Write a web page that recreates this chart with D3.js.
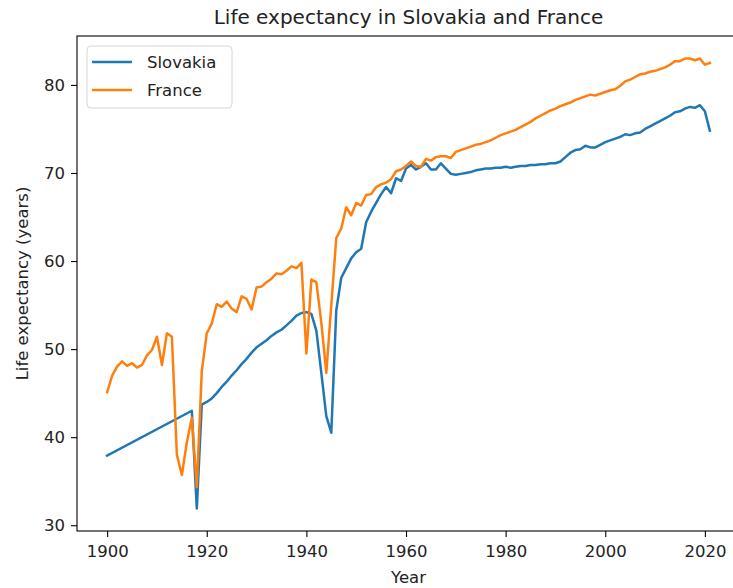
<!DOCTYPE html>
<html>
<head>
<meta charset="utf-8">
<script src="https://cdn.jsdelivr.net/npm/d3@7"></script>
<style>
  body { margin: 0; background: #fff; }
  svg { display: block; font-family: "DejaVu Sans", sans-serif; }
</style>
</head>
<body>
<div id="chart"></div>
<script>
// values
const slovakiaYears = [1900, 1917, 1918, 1919, 1920, 1921, 1922, 1923, 1924, 1925, 1926, 1927, 1928, 1929,
  1930, 1931, 1932, 1933, 1934, 1935, 1936, 1937, 1938, 1939, 1940, 1941, 1942, 1943, 1944, 1945, 1946,
  1947, 1948, 1949, 1950, 1951, 1952, 1953, 1954, 1955, 1956, 1957, 1958, 1959, 1960, 1961, 1962, 1963,
  1964, 1965, 1966, 1967, 1968, 1969, 1970, 1971, 1972, 1973, 1974, 1975, 1976, 1977, 1978, 1979, 1980,
  1981, 1982, 1983, 1984, 1985, 1986, 1987, 1988, 1989, 1990, 1991, 1992, 1993, 1994, 1995, 1996, 1997,
  1998, 1999, 2000, 2001, 2002, 2003, 2004, 2005, 2006, 2007, 2008, 2009, 2010, 2011, 2012, 2013, 2014,
  2015, 2016, 2017, 2018, 2019, 2020, 2021]
const slovakiaValues = [37.9, 43.0, 31.9, 43.7, 44.0, 44.4, 45.0, 45.7, 46.3, 47.0, 47.6, 48.3, 48.9, 49.6,
  50.2, 50.6, 51.0, 51.5, 51.9, 52.2, 52.7, 53.2, 53.8, 54.1, 54.2, 54.0, 52.1, 47.3, 42.4, 40.5, 54.4,
  58.1, 59.2, 60.3, 61.0, 61.4, 64.4, 65.6, 66.6, 67.6, 68.4, 67.7, 69.4, 69.1, 70.5, 70.9, 70.4, 70.7,
  71.1, 70.4, 70.4, 71.1, 70.5, 69.9, 69.8, 69.9, 70.0, 70.1, 70.3, 70.4, 70.5, 70.5, 70.6, 70.6, 70.7,
  70.6, 70.7, 70.8, 70.8, 70.9, 70.9, 71.0, 71.0, 71.1, 71.1, 71.3, 71.8, 72.3, 72.6, 72.7, 73.1, 72.9,
  72.9, 73.2, 73.5, 73.7, 73.9, 74.1, 74.4, 74.3, 74.5, 74.6, 75.0, 75.3, 75.6, 75.9, 76.2, 76.5, 76.9,
  77.0, 77.3, 77.5, 77.4, 77.7, 77.0, 74.8]

const franceYears = d3.range(1900, 2022)
const franceValues = [45.1, 47.0, 48.0, 48.6, 48.1, 48.4, 47.9, 48.2, 49.3, 49.9,
  51.4, 48.2, 51.8, 51.4, 38.0, 35.7, 39.4, 42.2, 34.3, 47.5,
  51.8, 52.9, 55.1, 54.8, 55.4, 54.6, 54.2, 56.0, 55.7, 54.5,
  57.0, 57.1, 57.6, 58.0, 58.6, 58.5, 58.9, 59.4, 59.2, 59.8,
  49.5, 57.9, 57.6, 53.0, 47.3, 55.0, 62.6, 63.7, 66.1, 65.2,
  66.6, 66.3, 67.5, 67.6, 68.4, 68.7, 68.9, 69.3, 70.2, 70.4,
  70.8, 71.3, 70.8, 70.7, 71.6, 71.4, 71.8, 71.9, 71.9, 71.7,
  72.4, 72.6, 72.8, 73.0, 73.2, 73.3, 73.5, 73.7, 74.0, 74.3,
  74.5, 74.7, 74.9, 75.2, 75.5, 75.8, 76.2, 76.5, 76.8, 77.1,
  77.3, 77.6, 77.8, 78.0, 78.3, 78.5, 78.7, 78.9, 78.8, 79.0,
  79.2, 79.4, 79.5, 79.9, 80.4, 80.6, 80.9, 81.2, 81.3, 81.5,
  81.6, 81.8, 82.0, 82.3, 82.7, 82.7, 83.0, 83.0, 82.8, 83.0,
  82.3, 82.5]

const xTicks = [1900, 1920, 1940, 1960, 1980, 2000, 2020]
const yTicks = [30, 40, 50, 60, 70, 80]

const series = [
  { name: 'Slovakia', color: '#1f77b4', years: slovakiaYears, values: slovakiaValues },
  { name: 'France', color: '#ff7f0e', years: franceYears, values: franceValues }
]

const W = 733, H = 588
const plotLeft = 77, plotRight = 740, plotTop = 36, plotBottom = 531
const fontSize = 16.5

// matplotlib style 5% margins
const pad = (lo, hi) => { let m = (hi - lo) * 0.05; return [lo - m, hi + m] }
const allYears = series.flatMap(s => s.years)
const allValues = series.flatMap(s => s.values)

const x = d3.scaleLinear().domain(pad(d3.min(allYears), d3.max(allYears))).range([plotLeft, plotRight])
const y = d3.scaleLinear().domain(pad(d3.min(allValues), d3.max(allValues))).range([plotBottom, plotTop])

const svg = d3.select('#chart').append('svg')
  .attr('width', W)
  .attr('height', H)

svg.append('rect').attr('width', W).attr('height', H).attr('fill', '#fff')

const line = d3.line().x(d => x(d[0])).y(d => y(d[1]))

series.forEach(s => {
  svg.append('path')
    .datum(s.years.map((yr, i) => [yr, s.values[i]]))
    .attr('d', line)
    .attr('fill', 'none')
    .attr('stroke', s.color)
    .attr('stroke-width', 2.5)
    .attr('stroke-linejoin', 'round')
    .attr('stroke-linecap', 'square')
})

let xAxis = svg.append('g')
  .attr('transform', `translate(0, ${plotBottom})`)
  .call(d3.axisBottom(x).tickValues(xTicks).tickFormat(d3.format('d')).tickSize(6).tickSizeOuter(0).tickPadding(8))
let yAxis = svg.append('g')
  .attr('transform', `translate(${plotLeft}, 0)`)
  .call(d3.axisLeft(y).tickValues(yTicks).tickSize(6).tickSizeOuter(0).tickPadding(6))

;[xAxis, yAxis].forEach(a => {
  a.select('.domain').remove()
  a.selectAll('line').attr('stroke', '#000').attr('stroke-width', 1.1)
  a.selectAll('text')
    .attr('fill', '#222')
    .style('font-size', fontSize + 'px')
    .style('font-family', '"DejaVu Sans", sans-serif')
})

// spines
svg.append('rect')
  .attr('x', plotLeft).attr('y', plotTop)
  .attr('width', plotRight - plotLeft).attr('height', plotBottom - plotTop)
  .attr('fill', 'none')
  .attr('stroke', '#000')
  .attr('stroke-width', 1.1)

svg.append('text')
  .attr('x', (plotLeft + plotRight) / 2)
  .attr('y', 24)
  .attr('text-anchor', 'middle')
  .attr('fill', '#222')
  .style('font-size', '20px')
  .text('Life expectancy in Slovakia and France')

svg.append('text')
  .attr('x', (plotLeft + plotRight) / 2)
  .attr('y', 583)
  .attr('text-anchor', 'middle')
  .attr('fill', '#222')
  .style('font-size', fontSize + 'px')
  .text('Year')

svg.append('text')
  .attr('transform', `translate(28, ${(plotTop + plotBottom) / 2}) rotate(-90)`)
  .attr('text-anchor', 'middle')
  .attr('fill', '#222')
  .style('font-size', fontSize + 'px')
  .text('Life expectancy (years)')

// legend
let legend = svg.append('g').attr('transform', 'translate(87, 46)')
legend.append('rect')
  .attr('width', 145).attr('height', 62).attr('rx', 4)
  .attr('fill', '#fff').attr('fill-opacity', 0.8)
  .attr('stroke', '#d6d6d6')
legend.selectAll('g.item')
  .data(series)
  .enter()
  .append('g')
  .attr('class', 'item')
  .attr('transform', (d, i) => `translate(0, ${16 + i * 28})`)
  .each(function(d) {
    let g = d3.select(this)
    g.append('line').attr('x1', 5).attr('x2', 45)
      .attr('stroke', d.color).attr('stroke-width', 2.5)
    g.append('text').attr('x', 60).attr('dy', '0.35em')
      .attr('fill', '#222')
      .style('font-size', fontSize + 'px')
      .text(d.name)
  })
</script>
</body>
</html>
